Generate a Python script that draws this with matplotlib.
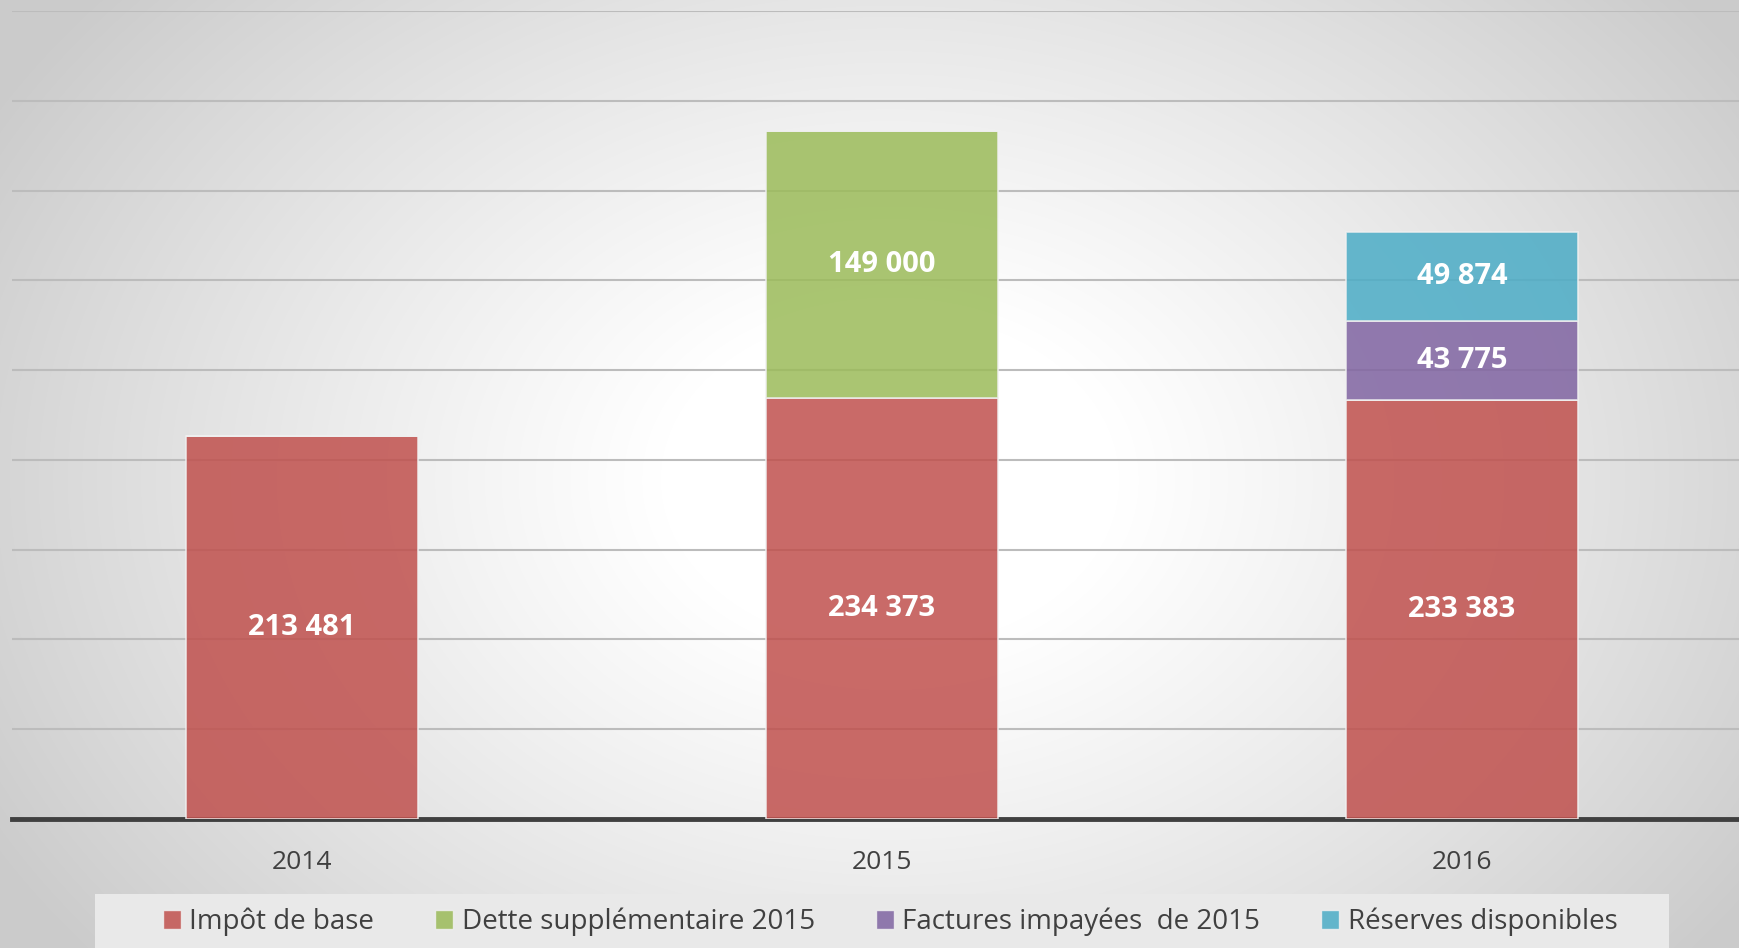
import numpy as np
import matplotlib
matplotlib.use("Agg")
import matplotlib.pyplot as plt
from matplotlib.patches import Rectangle

plt.rcParams['font.family'] = ['Open Sans', 'DejaVu Sans']

# données
annees = ['2014', '2015', '2016']
impot_base = [213481, 234373, 233383]
dette_2015 = [0, 149000, 0]
factures_2015 = [0, 0, 43775]
reserves = [0, 0, 49874]

series = [
    ('Impôt de base', impot_base, '#C0504D'),
    ('Dette supplémentaire 2015', dette_2015, '#9BBB59'),
    ('Factures impayées  de 2015', factures_2015, '#8064A2'),
    ('Réserves disponibles', reserves, '#4BACC6'),
]

W, H = 1740, 948
fig = plt.figure(figsize=(W / 100, H / 100), dpi=100)

# fond en dégradé radial
bg = fig.add_axes([0, 0, 1, 1], zorder=0)
yy, xx = np.mgrid[0:H, 0:W]
d = np.sqrt(((xx - 890) / 950.0) ** 2 + ((yy - 480) / 700.0) ** 2)
g = np.clip(1.04 - 0.22 * d ** 1.2, 0.80, 1.0)
bg.imshow(np.dstack([g, g, g]), aspect='auto', extent=[0, 1, 0, 1])
bg.axis('off')

ax = fig.add_axes([12 / W, 1 - 819 / H, 1740 / W, (819 - 11) / H], zorder=1)
ax.patch.set_alpha(0)
x = np.arange(len(annees))
bottom = np.zeros(len(annees))
handles = []
for nom, vals, col in series:
    vals = np.array(vals, dtype=float)
    ax.bar(x, vals, 0.4, bottom=bottom, color=col, alpha=0.85,
           edgecolor='#f0f0f0', linewidth=1.2, zorder=3, label=nom)
    for xi, v, b in zip(x, vals, bottom):
        if v > 0:
            ax.text(xi, b + v / 2, f"{int(v):,}".replace(',', ' '),
                    ha='center', va='center', color='white',
                    fontsize=21, fontweight='bold', zorder=4)
    bottom += vals
    handles.append(Rectangle((0, 0), 1, 1, facecolor=col, alpha=0.85, edgecolor='#f0f0f0'))

ax.set_xlim(-0.5, 2.5)
ax.set_ylim(0, 450000)
ax.set_yticks(np.arange(50000, 450001, 50000))
ax.yaxis.grid(True, color='#bcbcbc', linewidth=1.5, zorder=0)
ax.set_axisbelow(True)
ax.tick_params(axis='y', length=0, labelleft=False)
ax.set_xticks(x)
ax.set_xticklabels(annees, fontsize=19, color='#404040')
ax.tick_params(axis='x', length=0, pad=22)
for s in ['top', 'right', 'left']:
    ax.spines[s].set_visible(False)
ax.spines['bottom'].set_color('#404040')
ax.spines['bottom'].set_linewidth(3.5)

# légende
leg_bg = fig.add_axes([95 / W, 0, (1669 - 95) / W, (948 - 894) / H], zorder=2)
leg_bg.set_facecolor('#e9e9e9')
leg_bg.set_xticks([])
leg_bg.set_yticks([])
for s in leg_bg.spines.values():
    s.set_visible(False)
leg = fig.legend(handles, [s[0] for s in series], loc='center',
                 bbox_to_anchor=(890 / W, 1 - 922 / H), ncol=4, frameon=False,
                 fontsize=20, handlelength=0.65, handleheight=0.7,
                 handletextpad=0.3, columnspacing=2.2, labelcolor='#404040')
leg.set_zorder(3)

fig.savefig('out.png', dpi=100)
